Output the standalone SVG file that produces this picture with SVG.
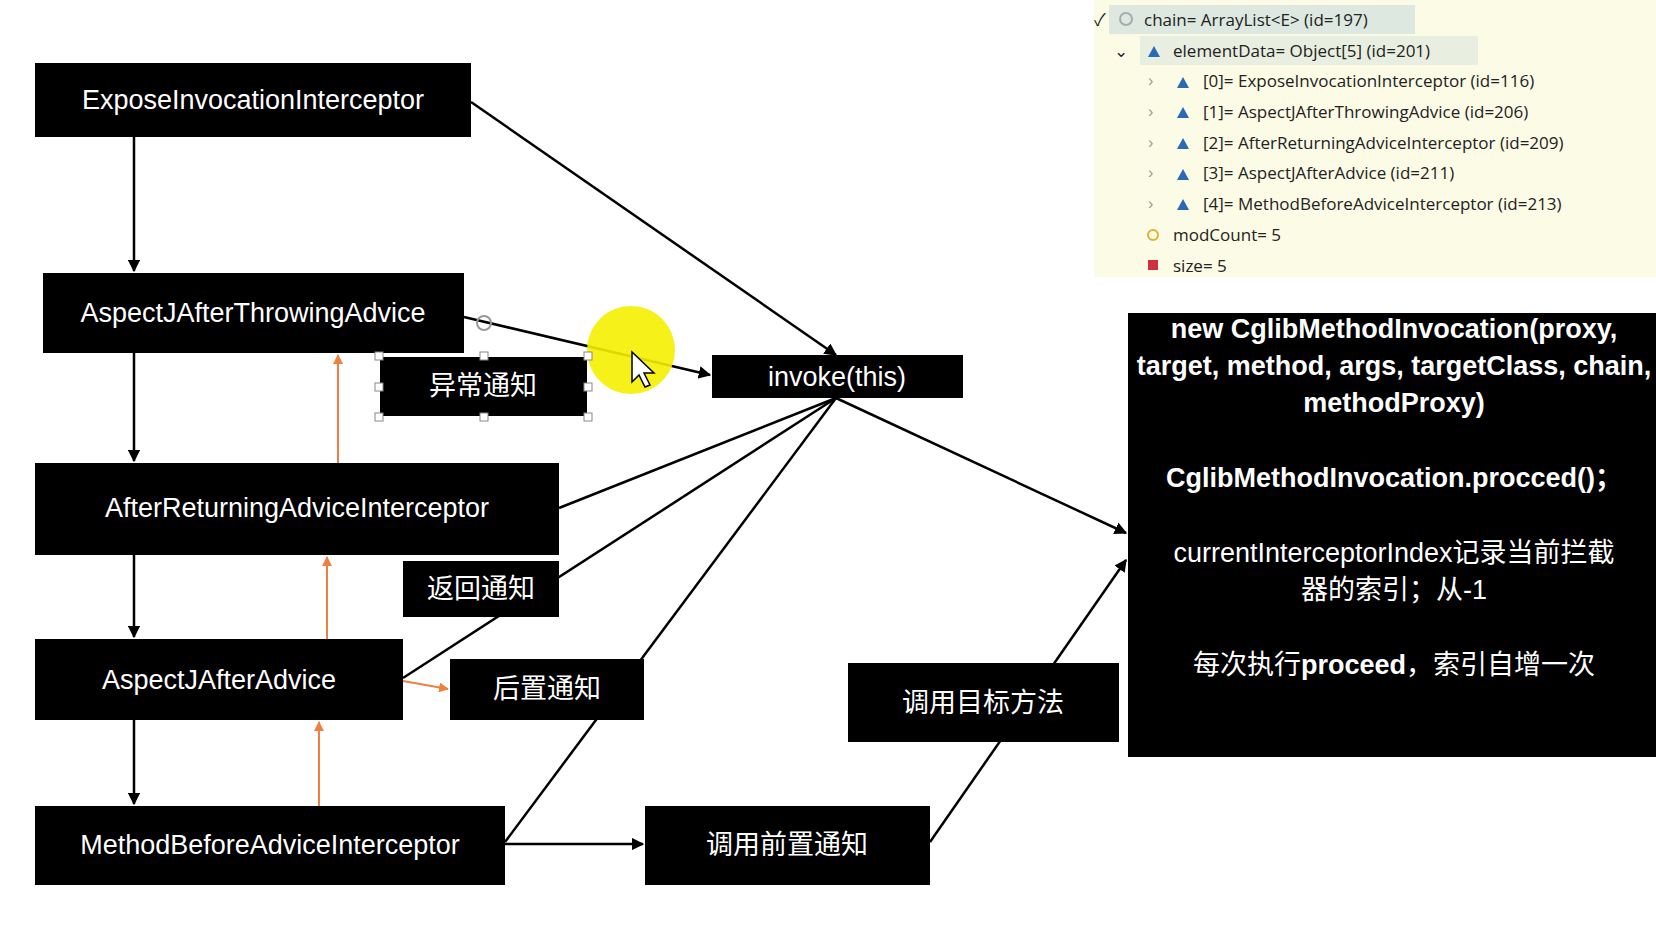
<svg xmlns="http://www.w3.org/2000/svg" width="1656" height="936" viewBox="0 0 1656 936">
<style>
.n{fill:#000}
.t{fill:#fff;font-family:"Liberation Sans","Noto Sans CJK SC",sans-serif;font-size:27px;text-anchor:middle;dominant-baseline:central}
.c{fill:none;stroke:#000;stroke-width:2.5}
.o{fill:none;stroke:#f08040;stroke-width:2}
.p{font-family:"Open Sans","Noto Sans CJK SC",sans-serif;font-size:17px;fill:#222;dominant-baseline:central}
.b{fill:#fff;font-family:"Liberation Sans","Noto Sans CJK SC",sans-serif;font-size:27px;text-anchor:middle;dominant-baseline:central}
</style>
<defs>
<marker id="a" viewBox="0 0 10 10" refX="9" refY="5" markerWidth="5" markerHeight="5" orient="auto"><path d="M0,0L10,5L0,10z" fill="#000"/></marker>
<marker id="ao" viewBox="0 0 10 10" refX="9" refY="5" markerWidth="5" markerHeight="5" orient="auto"><path d="M0,0L10,5L0,10z" fill="#f08040"/></marker>
</defs>
<rect width="1656" height="936" fill="#fff"/>
<g id="debug-panel">
<rect x="1094" y="0" width="562" height="277" fill="#fbfbe6"/>
<rect x="1109" y="5" width="306" height="29" fill="#dde8e0"/>
<rect x="1140" y="36" width="338" height="29" fill="#e8eee0"/>
<text class="p" x="1094" y="19">✓</text>
<circle cx="1126" cy="19" r="6" fill="none" stroke="#aaa" stroke-width="2"/>
<text class="p" x="1144" y="19">chain= ArrayList&lt;E&gt;  (id=197)</text>
<text class="p" x="1114" y="50">⌄</text>
<text class="p" x="1173" y="50">elementData= Object[5]  (id=201)</text>
<g fill="#2a6ab5">
<path d="M1148,57l6,-11l6,11z"/><path d="M1177,88l6,-11l6,11z"/><path d="M1177,118l6,-11l6,11z"/><path d="M1177,149l6,-11l6,11z"/><path d="M1177,180l6,-11l6,11z"/><path d="M1177,210l6,-11l6,11z"/>
</g>
<g fill="#999" font-family="Liberation Sans" font-size="16"><text x="1148" y="86">›</text><text x="1148" y="117">›</text><text x="1148" y="148">›</text><text x="1148" y="178">›</text><text x="1148" y="209">›</text></g>
<text class="p" x="1203" y="80">[0]= ExposeInvocationInterceptor  (id=116)</text>
<text class="p" x="1203" y="111">[1]= AspectJAfterThrowingAdvice  (id=206)</text>
<text class="p" x="1203" y="142">[2]= AfterReturningAdviceInterceptor  (id=209)</text>
<text class="p" x="1203" y="172">[3]= AspectJAfterAdvice  (id=211)</text>
<text class="p" x="1203" y="203">[4]= MethodBeforeAdviceInterceptor  (id=213)</text>
<circle cx="1153" cy="235" r="5" fill="none" stroke="#e0b030" stroke-width="2"/>
<text class="p" x="1173" y="234">modCount= 5</text>
<rect x="1148" y="260" width="10" height="10" fill="#d03040"/>
<text class="p" x="1173" y="265">size= 5</text>
</g>
<g id="connectors">
<path class="c" d="M134,137V271" marker-end="url(#a)"/>
<path class="c" d="M134,353V461" marker-end="url(#a)"/>
<path class="c" d="M134,555V637" marker-end="url(#a)"/>
<path class="c" d="M134,720V804" marker-end="url(#a)"/>
<path class="o" d="M338,463V355" marker-end="url(#ao)"/>
<path class="o" d="M327,639V557" marker-end="url(#ao)"/>
<path class="o" d="M319,806V722" marker-end="url(#ao)"/>
<path class="o" d="M403,681L448,689" marker-end="url(#ao)"/>
<path class="c" d="M471,102L836,355" marker-end="url(#a)"/>
<path class="c" d="M464,317L710,375" marker-end="url(#a)"/>
<path class="c" d="M559,508L836,398"/>
<path class="c" d="M403,678L836,398"/>
<path class="c" d="M505,842L836,398"/>
<path class="c" d="M505,844H643" marker-end="url(#a)"/>
<path class="c" d="M930,842L1126,560" marker-end="url(#a)"/>
<path class="c" d="M836,398L1126,533" marker-end="url(#a)"/>
</g>
<circle cx="631" cy="350" r="44" fill="#f5f000" opacity="0.9"/>
<path d="M632,352l0,30l7,-7l6,12l5,-2l-6,-12l10,0z" fill="#fff" stroke="#000" stroke-width="1.5"/>
<g id="n1"><rect class="n" x="35" y="63" width="436" height="74"/><text class="t" x="253" y="100">ExposeInvocationInterceptor</text></g>
<g id="n2"><rect class="n" x="43" y="273" width="421" height="80"/><text class="t" x="253" y="313">AspectJAfterThrowingAdvice</text></g>
<g id="n3"><rect class="n" x="35" y="463" width="524" height="92"/><text class="t" x="297" y="508">AfterReturningAdviceInterceptor</text></g>
<g id="n4"><rect class="n" x="35" y="639" width="368" height="81"/><text class="t" x="219" y="680">AspectJAfterAdvice</text></g>
<g id="n5"><rect class="n" x="35" y="806" width="470" height="79"/><text class="t" x="270" y="845">MethodBeforeAdviceInterceptor</text></g>
<g id="n6"><rect class="n" x="379" y="356" width="209" height="61" stroke="#fff" stroke-width="2"/><text class="t" x="483" y="386">异常通知</text>
<g fill="#fff" stroke="#888" stroke-width="1"><rect x="375" y="352" width="8" height="8"/><rect x="480" y="352" width="8" height="8"/><rect x="584" y="352" width="8" height="8"/><rect x="375" y="383" width="8" height="8"/><rect x="584" y="383" width="8" height="8"/><rect x="375" y="413" width="8" height="8"/><rect x="480" y="413" width="8" height="8"/><rect x="584" y="413" width="8" height="8"/></g>
<circle cx="484" cy="323" r="7" fill="none" stroke="#999" stroke-width="2"/></g>
<g id="n7"><rect class="n" x="712" y="355" width="251" height="43"/><text class="t" x="837" y="377">invoke(this)</text></g>
<g id="n8"><rect class="n" x="403" y="561" width="156" height="56"/><text class="t" x="481" y="589">返回通知</text></g>
<g id="n9"><rect class="n" x="450" y="659" width="194" height="61"/><text class="t" x="547" y="689">后置通知</text></g>
<g id="n10"><rect class="n" x="848" y="663" width="271" height="79"/><text class="t" x="983" y="703">调用目标方法</text></g>
<g id="n11"><rect class="n" x="645" y="806" width="285" height="79"/><text class="t" x="787" y="845">调用前置通知</text></g>
<g id="n12"><rect class="n" x="1128" y="313" width="528" height="444"/>
<g class="b" font-weight="bold" font-size="24"><text x="1394" y="329">new CglibMethodInvocation(proxy,</text><text x="1394" y="366">target, method, args, targetClass, chain,</text><text x="1394" y="403">methodProxy)</text><text x="1394" y="478">CglibMethodInvocation.procced()；</text></g>
<text class="b" x="1394" y="553">currentInterceptorIndex记录当前拦截</text>
<text class="b" x="1394" y="590">器的索引；从-1</text>
<text class="b" x="1394" y="665">每次执行<tspan font-weight="bold">proceed</tspan>，索引自增一次</text>
</g>
</svg>
